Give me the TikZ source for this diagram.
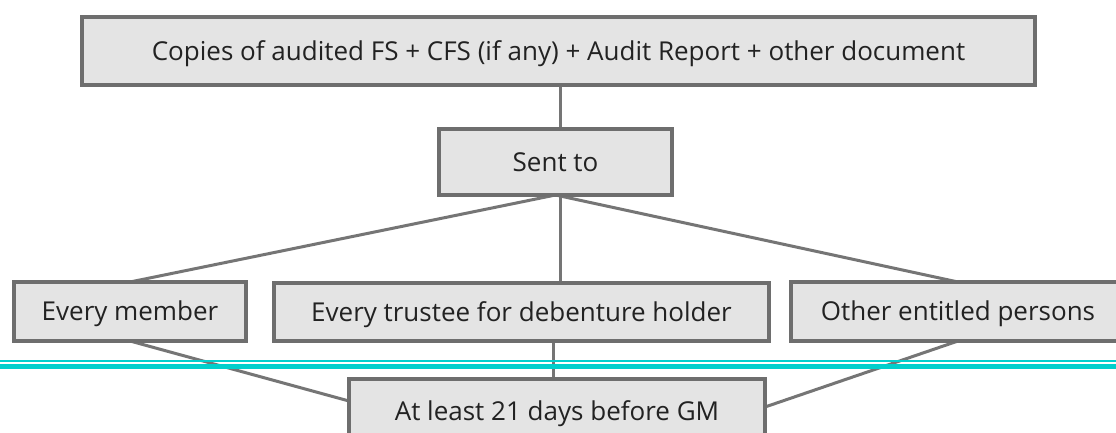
\documentclass[tikz,border=0pt]{standalone}
\usepackage{fontspec}
\setmainfont{Open Sans}
\usetikzlibrary{backgrounds}
\definecolor{boxfill}{HTML}{E4E4E4}
\definecolor{boxdraw}{HTML}{6E6E6E}
\definecolor{linkcol}{HTML}{757575}
\definecolor{txtcol}{HTML}{222222}
\definecolor{cyanline}{HTML}{00CFCC}
\begin{document}
\begin{tikzpicture}[x=1pt,y=-1pt,
  box/.style={draw=boxdraw,fill=boxfill,line width=4pt,rectangle,inner sep=0pt,outer sep=0pt,
    text=txtcol,font=\fontsize{26}{30}\selectfont,text height=18.6pt,text depth=0pt},
  rowbox/.style={box,text height=18.6pt,text depth=-5pt},
  link/.style={draw=linkcol,line width=3pt}]
\clip (0,0) rectangle (1116,433);
\node[box,minimum width=953pt,minimum height=68pt] (top) at (558.5,51) {Copies of audited FS + CFS (if any) + Audit Report + other document};
\node[box,minimum width=233pt,minimum height=66pt] (sent) at (555.5,162) {Sent to};
\node[rowbox,minimum width=232pt,minimum height=59pt] (mem) at (130,311.5) {Every member};
\node[rowbox,minimum width=495pt,minimum height=58pt] (trus) at (521.5,312) {Every trustee for debenture holder};
\node[rowbox,minimum width=334pt,minimum height=59pt] (oth) at (958,311.5) {Other entitled persons};
\node[box,minimum width=416pt,minimum height=64pt] (gm) at (557,411) {At least 21 days before GM};
\begin{pgfonlayer}{background}
\fill[white] (0,0) rectangle (1116,433);
\draw[link] ([xshift=4.5pt]sent.north) -- ([xshift=4.5pt]sent.north |- top.south);
\draw[link] (sent.south) -- (mem.north);
\draw[link] ([xshift=4.5pt]sent.south) -- ([xshift=4.5pt]sent.south |- trus.north);
\draw[link] (sent.south) -- (oth.north);
\draw[link] (mem.south) -- ([yshift=10pt]gm.west);
\draw[link] (oth.south) -- ([yshift=4pt]gm.east);
\draw[link] ([xshift=-4pt]gm.north) -- ([xshift=-4pt]gm.north |- trus.south);
\end{pgfonlayer}
\coordinate (cl) at (0,361);
\coordinate (cr) at (1116,361);
\draw[cyanline,line width=2pt] (cl) -- (cr);
\draw[cyanline,line width=4.5pt] ([yshift=-5.3pt]cl) -- ([yshift=-5.3pt]cr);
\end{tikzpicture}
\end{document}
